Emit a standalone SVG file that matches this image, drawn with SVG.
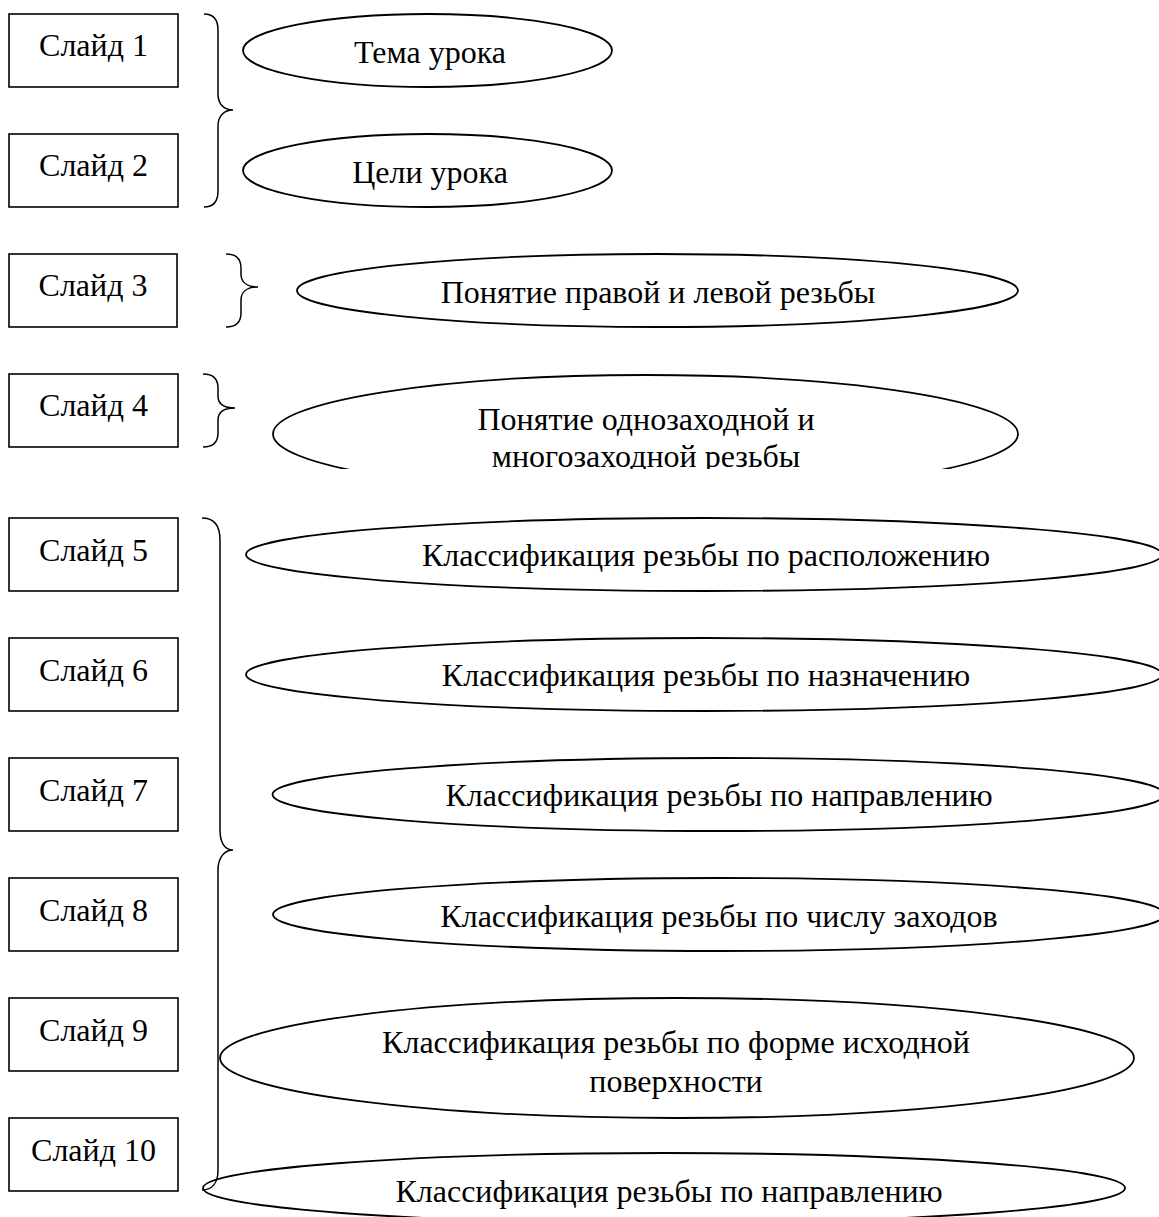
<svg xmlns="http://www.w3.org/2000/svg" width="1159" height="1217" viewBox="0 0 1159 1217">
<style>
.box{fill:#fff;stroke:#000;stroke-width:1.6}
.ell{fill:#fff;stroke:#000;stroke-width:1.8}
.br{fill:none;stroke:#000;stroke-width:1.5}
text{font-family:"Liberation Serif","Times New Roman",serif;font-size:32px;fill:#000;text-anchor:middle}
</style>
<defs>
<clipPath id="cut4"><rect x="0" y="0" width="1159" height="469"/></clipPath>
</defs>
<rect width="1159" height="1217" fill="#fff"/>
<g id="slide1"><rect class="box" x="9" y="14" width="169" height="73"/><text x="93.5" y="56">Слайд 1</text></g>
<g id="slide2"><rect class="box" x="9" y="134" width="169" height="73"/><text x="93.5" y="176">Слайд 2</text></g>
<g id="slide3"><rect class="box" x="9" y="254" width="168" height="73"/><text x="93" y="296">Слайд 3</text></g>
<g id="slide4"><rect class="box" x="9" y="374" width="169" height="73"/><text x="93.5" y="416">Слайд 4</text></g>
<g id="slide5"><rect class="box" x="9" y="518" width="169" height="73"/><text x="93.5" y="561">Слайд 5</text></g>
<g id="slide6"><rect class="box" x="9" y="638" width="169" height="73"/><text x="93.5" y="681">Слайд 6</text></g>
<g id="slide7"><rect class="box" x="9" y="758" width="169" height="73"/><text x="93.5" y="801">Слайд 7</text></g>
<g id="slide8"><rect class="box" x="9" y="878" width="169" height="73"/><text x="93.5" y="921">Слайд 8</text></g>
<g id="slide9"><rect class="box" x="9" y="998" width="169" height="73"/><text x="93.5" y="1041">Слайд 9</text></g>
<g id="slide10"><rect class="box" x="9" y="1118" width="169" height="73"/><text x="93.5" y="1161">Слайд 10</text></g>

<g id="topic1"><ellipse class="ell" cx="427.5" cy="50.5" rx="184.5" ry="36.5"/><text x="430" y="63">Тема урока</text></g>
<g id="topic2"><ellipse class="ell" cx="427.5" cy="170.5" rx="184.5" ry="36.5"/><text x="430" y="183">Цели урока</text></g>
<g id="topic3"><ellipse class="ell" cx="657.5" cy="290.5" rx="360.5" ry="36.5"/><text x="658" y="303">Понятие правой и левой резьбы</text></g>
<g id="topic4" clip-path="url(#cut4)"><ellipse class="ell" cx="645.5" cy="434" rx="372.5" ry="59"/><text x="646" y="430">Понятие однозаходной и</text><text x="646" y="467">многозаходной резьбы</text></g>
<g id="topic5"><ellipse class="ell" cx="704" cy="554.5" rx="458" ry="36.5"/><text x="706" y="566">Классификация резьбы по расположению</text></g>
<g id="topic6"><ellipse class="ell" cx="704" cy="674.5" rx="458" ry="36.5"/><text x="706" y="686">Классификация резьбы по назначению</text></g>
<g id="topic7"><ellipse class="ell" cx="718.5" cy="794.5" rx="446" ry="36.5"/><text x="719" y="806">Классификация резьбы по направлению</text></g>
<g id="topic8"><ellipse class="ell" cx="719" cy="914.5" rx="446" ry="36.5"/><text x="719" y="927">Классификация резьбы по числу заходов</text></g>
<g id="topic9"><ellipse class="ell" cx="677" cy="1058" rx="457" ry="60"/><text x="676" y="1053">Классификация резьбы по форме исходной</text><text x="676" y="1092">поверхности</text></g>
<g id="topic10"><ellipse class="ell" cx="664" cy="1188" rx="461" ry="35"/><text x="669" y="1202">Классификация резьбы по направлению</text></g>

<g id="connectors">
<path class="br" d="M204,14 C214,14 218,20 218,30 L218,94 C218,104 224,110 233,110 C224,110 218,116 218,126 L218,191 C218,201 214,207 204,207"/>
<path class="br" d="M226,254 C236,254 241,259 241,268 L241,274 C241,282 247,287 258,287 C247,287 241,292 241,300 L241,313 C241,322 236,327 226,327"/>
<path class="br" d="M203,374 C213,374 218,379 218,388 L218,396 C218,404 224,408 235,408 C224,408 218,412 218,420 L218,433 C218,442 213,447 203,447"/>
<path class="br" d="M202,518 C214,518 220,526 220,540 L220,830 C220,843 225,850 233,850 C225,850 218,857 218,870 L218,1170 C218,1183 212,1190 202,1190"/>
</g>
</svg>
